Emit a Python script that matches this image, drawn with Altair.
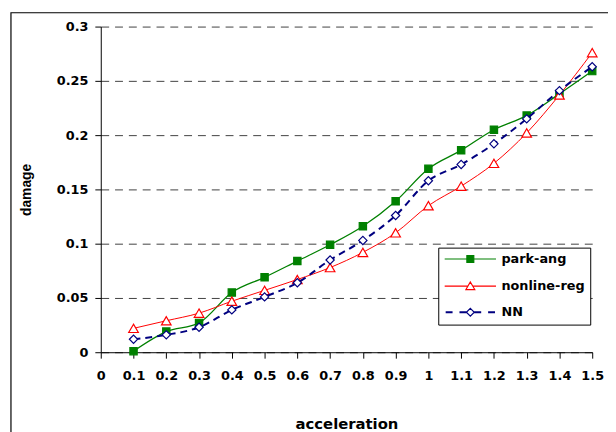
import altair as alt
import pandas as pd

# ---- data ----
accel = [0.1, 0.2, 0.3, 0.4, 0.5, 0.6, 0.7, 0.8, 0.9, 1.0, 1.1, 1.2, 1.3, 1.4, 1.5]
park_ang = [0.001, 0.019, 0.027, 0.055, 0.069, 0.084, 0.099, 0.116, 0.139, 0.169, 0.186, 0.205, 0.218, 0.238, 0.259]
nonline_reg = [0.022, 0.029, 0.036, 0.047, 0.057, 0.067, 0.078, 0.092, 0.110, 0.135, 0.153, 0.174, 0.202, 0.237, 0.276]
nn = [0.012, 0.016, 0.023, 0.039, 0.051, 0.064, 0.085, 0.103, 0.126, 0.158, 0.173, 0.192, 0.215, 0.241, 0.263]

series_names = ["park-ang", "nonline-reg", "NN"]
series_colors = ["#008000", "#ff0000", "#000080"]
x_ticks = [0, 0.1, 0.2, 0.3, 0.4, 0.5, 0.6, 0.7, 0.8, 0.9, 1.0, 1.1, 1.2, 1.3, 1.4, 1.5]
y_ticks = [0, 0.05, 0.1, 0.15, 0.2, 0.25, 0.3]

rows = []
for name, vals in zip(series_names, [park_ang, nonline_reg, nn]):
    for a, v in zip(accel, vals):
        rows.append({"accel": a, "damage": v, "series": name})
df = pd.DataFrame(rows)

X = alt.X("accel:Q", scale=alt.Scale(domain=[0, 1.5], nice=False, zero=False),
          axis=alt.Axis(values=x_ticks, format="~g", title="acceleration", grid=False,
                        labelFont="DejaVu Sans", labelFontWeight="bold", labelFontSize=13,
                        labelPadding=12, labelFlush=False, labelOverlap=False,
                        titleFont="DejaVu Sans", titleFontWeight="bold", titleFontSize=15,
                        titlePadding=34))
Y = alt.Y("damage:Q", scale=alt.Scale(domain=[0, 0.3], nice=False),
          axis=alt.Axis(values=y_ticks, format="~g", title="damage", grid=True,
                        gridDash=[8, 6], gridColor="#404040", gridWidth=1,
                        labelFont="DejaVu Sans", labelFontWeight="bold", labelFontSize=13,
                        labelPadding=7, labelFlush=False, labelOverlap=False,
                        titleFont="Liberation Sans", titleFontWeight="bold", titleFontSize=14,
                        titlePadding=23))

base = alt.Chart(df)

# outer frame of the original figure
frame = base.mark_rect(filled=False, stroke="black", strokeWidth=1.2).encode(
    x=alt.value(-91), x2=alt.value(530), y=alt.value(-14), y2=alt.value(430)
).transform_filter("datum.accel == 0.1 && datum.series == 'NN'")

styles = {
    "park-ang": dict(shape="square", size=55, fill="#008000", width=1.3, dash=None),
    "nonline-reg": dict(shape="triangle-up", size=95, fill="white", width=1.0, dash=None),
    "NN": dict(shape="diamond", size=70, fill="white", width=2.0, dash=[7, 5]),
}

layers = [frame]
for name, color in zip(series_names, series_colors):
    st = styles[name]
    sub = base.transform_filter(alt.datum.series == name)
    line_kw = dict(color=color, strokeWidth=st["width"], interpolate="monotone")
    if st["dash"]:
        line_kw["strokeDash"] = st["dash"]
    layers.append(sub.mark_line(**line_kw).encode(x=X, y=Y))
    layers.append(sub.mark_point(shape=st["shape"], size=st["size"], filled=True, fill=st["fill"],
                                 stroke=color, strokeWidth=1.2, opacity=1).encode(x=X, y=Y))

# legend-only layer: symbols are line + marker
legend_paths = [
    "M-5.2,0H5.2M-0.7,-0.7H0.7V0.7H-0.7Z",
    "M-5.2,0H-0.5M0.5,0H5.2M0,-0.85L0.9,0.7L-0.9,0.7Z",
    "M-5,-0.1H-3.6M-5,0.1H-3.6M-2.2,-0.1H-0.8M-2.2,0.1H-0.8M0.8,-0.1H2.2M0.8,0.1H2.2M3.6,-0.1H5M3.6,0.1H5M0,-0.8L0.8,0L0,0.8L-0.8,0Z",
]
legend_fills = ["#008000", "white", "white"]
leg = alt.Legend(title=None, orient="none", legendX=342, legendY=224)
legend_layer = base.transform_filter("false").mark_point(size=100, opacity=1, filled=True, strokeWidth=1.2).encode(
    x=X, y=Y,
    shape=alt.Shape("series:N", scale=alt.Scale(domain=series_names, range=legend_paths), legend=leg),
    stroke=alt.Stroke("series:N", scale=alt.Scale(domain=series_names, range=series_colors), legend=leg),
    fill=alt.Fill("series:N", scale=alt.Scale(domain=series_names, range=legend_fills), legend=leg),
)
layers.append(legend_layer)

chart = alt.layer(*layers).properties(
    width=498, height=330,
    autosize=alt.AutoSizeParams(type="none"),
    padding={"left": 94, "top": 16, "right": 16, "bottom": 78},
).configure_view(stroke=None).configure_axis(
    domainColor="black", domainWidth=1, tickColor="black", tickSize=6, tickWidth=1,
    labelColor="black", titleColor="black",
).configure_legend(
    strokeColor="black", fillColor="white", padding=5, cornerRadius=0,
    labelFont="DejaVu Sans", labelFontWeight="bold", labelFontSize=13, labelColor="black",
    symbolOffset=21, labelOffset=25, rowPadding=12.5, symbolStrokeWidth=1.2, labelLimit=0,
)

chart.save("out.html", embed_options={"renderer": "svg", "actions": False})
